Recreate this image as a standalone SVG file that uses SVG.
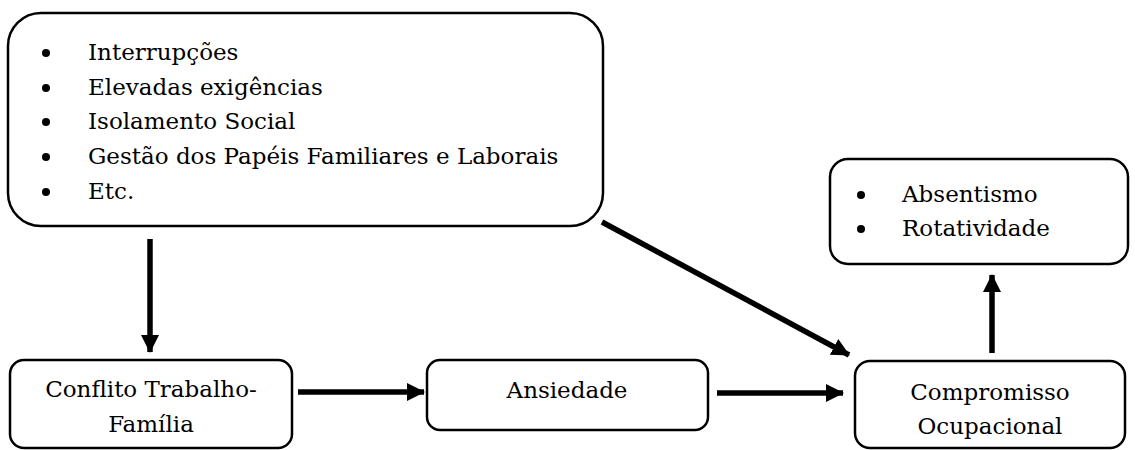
<svg xmlns="http://www.w3.org/2000/svg" width="1135" height="450" viewBox="0 0 1135 450">
<style>
.box{fill:#fff;stroke:#000;stroke-width:2.5}
.t{font-family:"DejaVu Serif","Liberation Serif",serif;font-size:23px;fill:#000}
.c{text-anchor:middle}
.conn line{stroke:#000;stroke-width:5.5}
</style>
<defs>
<marker id="ah" viewBox="0 0 18 18" refX="17" refY="9" markerWidth="18" markerHeight="18" markerUnits="userSpaceOnUse" orient="auto"><path d="M0,0 L18,9 L0,18 z" fill="#000"/></marker>
</defs>
<rect width="1135" height="450" fill="#fff"/>
<g id="factors">
<rect class="box" x="8" y="13" width="595" height="213" rx="33"/>
<circle cx="46" cy="53" r="4"/><text class="t" x="88" y="60">Interrupções</text>
<circle cx="46" cy="88" r="4"/><text class="t" x="88" y="95">Elevadas exigências</text>
<circle cx="46" cy="122" r="4"/><text class="t" x="88" y="129">Isolamento Social</text>
<circle cx="46" cy="157" r="4"/><text class="t" x="88" y="164">Gestão dos Papéis Familiares e Laborais</text>
<circle cx="46" cy="192" r="4"/><text class="t" x="88" y="199">Etc.</text>
</g>
<g id="outcomes">
<rect class="box" x="830" y="159" width="298" height="105" rx="18"/>
<circle cx="861" cy="195" r="4"/><text class="t" x="902" y="202">Absentismo</text>
<circle cx="861" cy="229" r="4"/><text class="t" x="902" y="236">Rotatividade</text>
</g>
<g id="conflito">
<rect class="box" x="10" y="360" width="282" height="88" rx="14"/>
<text class="t c" x="151" y="397">Conflito Trabalho-</text>
<text class="t c" x="151" y="432">Família</text>
</g>
<g id="ansiedade">
<rect class="box" x="427" y="360" width="281" height="70" rx="13"/>
<text class="t c" x="567" y="398">Ansiedade</text>
</g>
<g id="compromisso">
<rect class="box" x="855" y="361" width="270" height="87" rx="15"/>
<text class="t c" x="990" y="400">Compromisso</text>
<text class="t c" x="990" y="434">Ocupacional</text>
</g>
<g class="conn" id="connectors">
<line x1="150" y1="239" x2="150" y2="352" marker-end="url(#ah)"/>
<line x1="298" y1="392" x2="424" y2="392" marker-end="url(#ah)"/>
<line x1="717" y1="393" x2="843" y2="393" marker-end="url(#ah)"/>
<line x1="602" y1="222" x2="849" y2="355" marker-end="url(#ah)"/>
<line x1="992" y1="353" x2="992" y2="275" marker-end="url(#ah)"/>
</g>
</svg>
